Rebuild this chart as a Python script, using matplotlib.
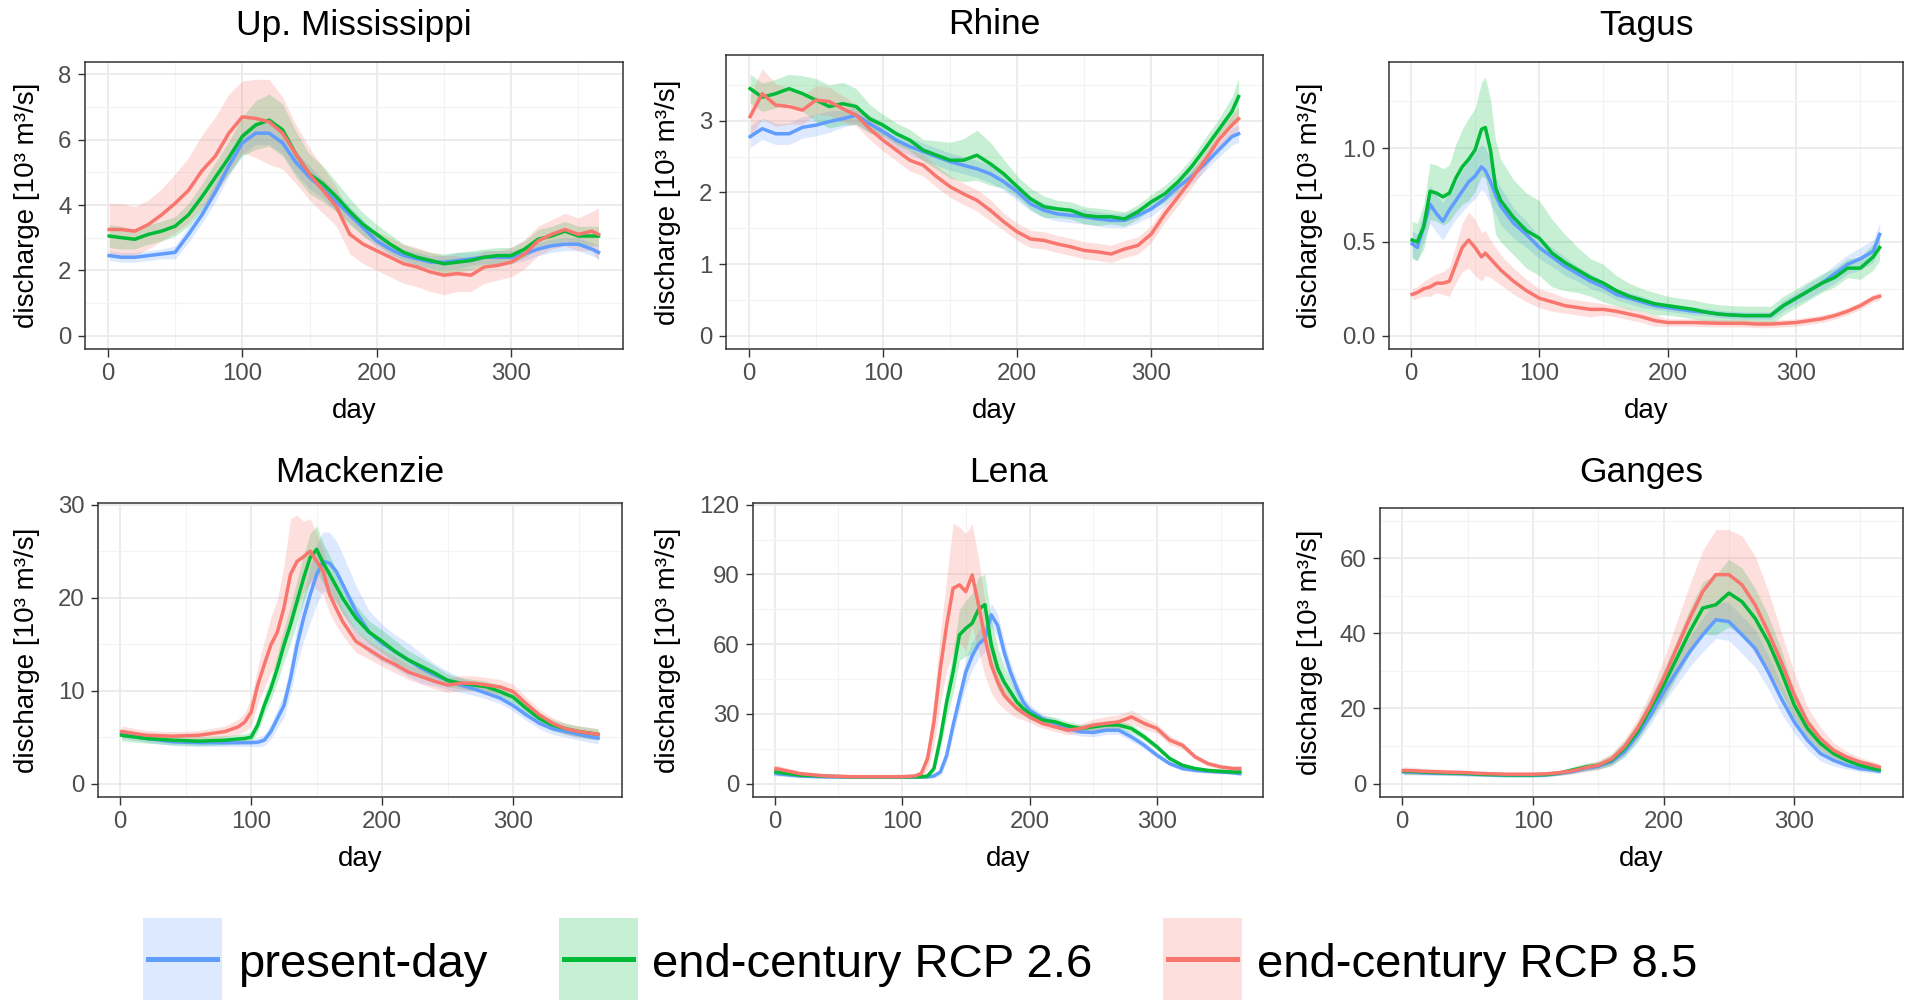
import numpy as np
import matplotlib
matplotlib.use("Agg")
import matplotlib.pyplot as plt
from matplotlib.patches import Rectangle
from matplotlib.lines import Line2D
from matplotlib.ticker import FixedLocator, FixedFormatter

plt.rcParams['font.family'] = ['Liberation Sans', 'DejaVu Sans']

# ---------------- data (10^3 m^3/s) ----------------
DAYS_STD = [1, 10, 20, 30, 40, 50, 60, 70, 80, 90, 100, 110, 120, 130, 140, 150, 160, 170, 180,
            190, 200, 210, 220, 230, 240, 250, 260, 270, 280, 290, 300, 310, 320, 330, 340, 350,
            360, 365]

# Upper Mississippi
MISS_PRESENT = [2.45, 2.4, 2.4, 2.45, 2.5, 2.55, 3.1, 3.7, 4.4, 5.2, 5.9, 6.2, 6.2, 5.9, 5.3, 4.85,
                4.5, 4.1, 3.7, 3.3, 2.9, 2.65, 2.45, 2.35, 2.25, 2.25, 2.3, 2.35, 2.4, 2.4, 2.4, 2.5,
                2.65, 2.75, 2.8, 2.8, 2.65, 2.55]
MISS_PRESENT_SPREAD = [0.15, 0.15, 0.15, 0.15, 0.15, 0.2, 0.25, 0.25, 0.3, 0.3, 0.35, 0.35, 0.35, 0.35,
                       0.35, 0.35, 0.3, 0.3, 0.25, 0.25, 0.2, 0.2, 0.2, 0.2, 0.2, 0.2, 0.25, 0.2, 0.2,
                       0.2, 0.2, 0.2, 0.2, 0.2, 0.2, 0.2, 0.2, 0.2]
MISS_RCP26 = [3.05, 3.0, 2.95, 3.1, 3.2, 3.35, 3.7, 4.25, 4.85, 5.45, 6.1, 6.45, 6.6, 6.3, 5.55, 4.95,
              4.65, 4.25, 3.8, 3.4, 3.1, 2.8, 2.55, 2.4, 2.3, 2.2, 2.25, 2.3, 2.4, 2.45, 2.45, 2.65,
              2.95, 3.05, 3.2, 3.05, 3.05, 3.05]
MISS_RCP26_SPREAD = [0.35, 0.35, 0.3, 0.3, 0.3, 0.3, 0.35, 0.4, 0.45, 0.5, 0.6, 0.75, 0.8, 0.8, 0.7, 0.6,
                     0.55, 0.45, 0.4, 0.35, 0.3, 0.3, 0.25, 0.25, 0.25, 0.3, 0.3, 0.3, 0.25, 0.25, 0.25,
                     0.25, 0.3, 0.3, 0.3, 0.3, 0.3, 0.3]
MISS_RCP85 = [3.25, 3.25, 3.2, 3.4, 3.7, 4.05, 4.45, 5.05, 5.5, 6.2, 6.7, 6.65, 6.55, 6.2, 5.55, 4.95,
              4.45, 3.95, 3.1, 2.8, 2.6, 2.4, 2.2, 2.1, 1.95, 1.85, 1.9, 1.85, 2.1, 2.15, 2.25, 2.5,
              2.9, 3.1, 3.25, 3.1, 3.2, 3.1]
MISS_RCP85_SPREAD = [0.8, 0.8, 0.75, 0.75, 0.8, 0.9, 1.0, 1.1, 1.2, 1.2, 1.1, 1.2, 1.3, 1.1, 0.9, 0.8,
                     0.7, 0.6, 0.6, 0.6, 0.6, 0.6, 0.6, 0.6, 0.6, 0.6, 0.55, 0.5, 0.5, 0.45, 0.45, 0.45,
                     0.45, 0.45, 0.5, 0.5, 0.6, 0.8]

# Rhine
RHINE_PRESENT = [2.78, 2.89, 2.82, 2.82, 2.91, 2.94, 2.99, 3.03, 3.08, 2.96, 2.85, 2.73, 2.64, 2.57,
                 2.5, 2.43, 2.38, 2.33, 2.26, 2.15, 2.01, 1.84, 1.75, 1.70, 1.68, 1.66, 1.63, 1.61,
                 1.61, 1.68, 1.77, 1.91, 2.08, 2.22, 2.40, 2.59, 2.78, 2.82]
RHINE_PRESENT_SPREAD = [0.15, 0.15, 0.15, 0.15, 0.15, 0.15, 0.15, 0.12, 0.12, 0.12, 0.12, 0.12, 0.12,
                        0.12, 0.12, 0.12, 0.12, 0.12, 0.12, 0.12, 0.12, 0.1, 0.1, 0.1, 0.1, 0.1, 0.1,
                        0.1, 0.1, 0.1, 0.1, 0.1, 0.1, 0.1, 0.1, 0.1, 0.12, 0.12]
RHINE_RCP26 = [3.45, 3.33, 3.38, 3.45, 3.38, 3.29, 3.20, 3.24, 3.20, 3.03, 2.94, 2.82, 2.73, 2.59,
               2.52, 2.45, 2.45, 2.52, 2.40, 2.26, 2.08, 1.91, 1.80, 1.77, 1.75, 1.68, 1.66, 1.66,
               1.63, 1.73, 1.87, 1.98, 2.15, 2.36, 2.61, 2.87, 3.13, 3.34]
RHINE_RCP26_SPREAD = [0.2, 0.2, 0.2, 0.2, 0.25, 0.3, 0.3, 0.3, 0.25, 0.2, 0.15, 0.15, 0.15, 0.15, 0.2,
                      0.25, 0.3, 0.35, 0.3, 0.2, 0.15, 0.15, 0.15, 0.12, 0.12, 0.12, 0.12, 0.1, 0.1,
                      0.1, 0.1, 0.12, 0.12, 0.12, 0.15, 0.15, 0.2, 0.25]
RHINE_RCP85 = [3.06, 3.38, 3.22, 3.20, 3.15, 3.29, 3.27, 3.17, 3.08, 2.89, 2.73, 2.59, 2.45, 2.38,
               2.22, 2.08, 1.98, 1.89, 1.75, 1.59, 1.45, 1.35, 1.33, 1.28, 1.24, 1.19, 1.17, 1.14,
               1.21, 1.26, 1.42, 1.70, 1.94, 2.19, 2.45, 2.73, 2.94, 3.03]
RHINE_RCP85_SPREAD = [0.3, 0.35, 0.3, 0.25, 0.2, 0.2, 0.2, 0.18, 0.15, 0.15, 0.15, 0.15, 0.15, 0.15,
                      0.15, 0.15, 0.15, 0.15, 0.15, 0.12, 0.12, 0.12, 0.12, 0.12, 0.12, 0.12, 0.12,
                      0.12, 0.12, 0.12, 0.12, 0.12, 0.12, 0.12, 0.12, 0.12, 0.15, 0.15]

# Tagus
TAGUS_DAYS = [1, 5, 10, 15, 20, 25, 30, 35, 40, 45, 50, 55, 58, 62, 66, 70, 80, 90, 100, 110, 120,
              130, 140, 150, 160, 170, 180, 190, 200, 210, 220, 230, 240, 250, 260, 270, 280, 290,
              300, 310, 320, 330, 340, 350, 360, 365]
TAGUS_PRESENT = [0.49, 0.47, 0.58, 0.70, 0.65, 0.61, 0.67, 0.72, 0.77, 0.82, 0.85, 0.90, 0.88, 0.82,
                 0.75, 0.69, 0.60, 0.54, 0.47, 0.42, 0.37, 0.33, 0.29, 0.26, 0.22, 0.20, 0.18, 0.16,
                 0.15, 0.14, 0.13, 0.125, 0.115, 0.11, 0.107, 0.107, 0.107, 0.16, 0.20, 0.24, 0.28,
                 0.33, 0.38, 0.41, 0.45, 0.54]
TAGUS_PRESENT_SPREAD = [0.07, 0.07, 0.08, 0.1, 0.1, 0.1, 0.1, 0.1, 0.11, 0.12, 0.12, 0.12, 0.12, 0.12,
                        0.1, 0.1, 0.08, 0.07, 0.06, 0.05, 0.05, 0.04, 0.04, 0.03, 0.03, 0.03, 0.03,
                        0.02, 0.02, 0.02, 0.02, 0.02, 0.02, 0.02, 0.02, 0.02, 0.02, 0.03, 0.03, 0.04,
                        0.04, 0.05, 0.05, 0.06, 0.06, 0.06]
TAGUS_RCP26 = [0.51, 0.50, 0.58, 0.77, 0.76, 0.74, 0.76, 0.84, 0.90, 0.94, 0.99, 1.10, 1.11, 0.99,
               0.79, 0.72, 0.63, 0.56, 0.52, 0.44, 0.39, 0.35, 0.31, 0.28, 0.24, 0.21, 0.19, 0.17,
               0.16, 0.15, 0.14, 0.125, 0.115, 0.11, 0.107, 0.107, 0.107, 0.16, 0.20, 0.24, 0.28,
               0.31, 0.36, 0.36, 0.42, 0.47]
TAGUS_RCP26_SPREAD = [0.1, 0.1, 0.12, 0.15, 0.15, 0.15, 0.15, 0.18, 0.2, 0.22, 0.22, 0.25, 0.27, 0.27,
                      0.25, 0.22, 0.2, 0.2, 0.2, 0.18, 0.15, 0.12, 0.1, 0.1, 0.08, 0.07, 0.06, 0.06,
                      0.05, 0.05, 0.05, 0.05, 0.05, 0.05, 0.05, 0.05, 0.05, 0.05, 0.05, 0.05, 0.05,
                      0.05, 0.05, 0.06, 0.07, 0.07]
TAGUS_RCP85 = [0.22, 0.23, 0.25, 0.26, 0.28, 0.28, 0.29, 0.38, 0.47, 0.51, 0.47, 0.42, 0.44, 0.41,
               0.38, 0.35, 0.29, 0.24, 0.20, 0.18, 0.16, 0.15, 0.14, 0.14, 0.13, 0.115, 0.10, 0.08,
               0.07, 0.07, 0.07, 0.068, 0.066, 0.066, 0.066, 0.062, 0.062, 0.066, 0.07, 0.08, 0.09,
               0.107, 0.13, 0.16, 0.20, 0.21]
TAGUS_RCP85_SPREAD = [0.03, 0.03, 0.04, 0.05, 0.05, 0.06, 0.08, 0.1, 0.13, 0.15, 0.15, 0.13, 0.12, 0.1,
                      0.09, 0.08, 0.07, 0.06, 0.05, 0.05, 0.04, 0.04, 0.04, 0.03, 0.03, 0.03, 0.03,
                      0.03, 0.02, 0.02, 0.02, 0.02, 0.02, 0.02, 0.02, 0.02, 0.02, 0.02, 0.02, 0.02,
                      0.02, 0.02, 0.02, 0.02, 0.02, 0.02]

# Mackenzie
MACK_DAYS = [1, 20, 40, 60, 80, 90, 95, 100, 105, 110, 115, 120, 125, 130, 135, 140, 145, 150, 155,
             160, 165, 170, 180, 190, 200, 210, 220, 230, 240, 250, 260, 270, 280, 290, 300, 310,
             320, 330, 340, 350, 360, 365]
MACK_PRESENT = [5.4, 4.85, 4.5, 4.4, 4.4, 4.4, 4.4, 4.4, 4.45, 4.67, 5.6, 7.0, 8.4, 11.3, 14.9, 17.8,
                20.3, 22.5, 23.9, 23.7, 22.8, 21.4, 18.5, 16.3, 15.1, 14.2, 13.3, 12.4, 11.7, 11.1,
                10.6, 10.2, 9.7, 9.2, 8.4, 7.4, 6.5, 5.9, 5.6, 5.3, 5.0, 4.9]
MACK_PRESENT_SPREAD = [0.5, 0.4, 0.4, 0.4, 0.4, 0.4, 0.4, 0.4, 0.5, 0.6, 0.8, 1.0, 1.3, 1.6, 2.0, 2.5,
                       3.0, 3.2, 3.2, 3.3, 3.3, 3.2, 2.8, 2.3, 2.0, 1.8, 1.8, 1.6, 1.2, 1.0, 0.8, 0.7,
                       0.6, 0.6, 0.6, 0.6, 0.6, 0.6, 0.6, 0.6, 0.6, 0.6]
MACK_RCP26 = [5.2, 4.85, 4.67, 4.56, 4.67, 4.8, 4.85, 5.0, 6.3, 8.4, 10.2, 12.4, 14.9, 17.1, 19.6,
              22.1, 24.3, 25.2, 23.7, 22.5, 21.2, 19.9, 17.8, 16.3, 15.3, 14.2, 13.3, 12.6, 11.9,
              11.1, 10.8, 10.6, 10.4, 9.9, 9.3, 8.1, 7.0, 6.3, 5.9, 5.6, 5.4, 5.3]
MACK_RCP26_SPREAD = [0.6, 0.5, 0.5, 0.5, 0.5, 0.5, 0.5, 0.6, 0.8, 1.0, 1.2, 1.5, 1.8, 2.0, 2.3, 2.5,
                     2.6, 2.5, 2.2, 2.0, 1.8, 1.6, 1.4, 1.2, 1.2, 1.2, 1.0, 0.9, 0.8, 0.7, 0.6, 0.6,
                     0.6, 0.6, 0.6, 0.6, 0.6, 0.6, 0.6, 0.6, 0.6, 0.6]
MACK_RCP85 = [5.6, 5.2, 5.1, 5.2, 5.6, 6.1, 6.6, 7.7, 10.6, 12.8, 14.9, 16.3, 18.9, 22.5, 23.9, 24.4,
              25.0, 23.9, 22.8, 20.3, 18.8, 17.4, 15.3, 14.4, 13.5, 12.8, 12.0, 11.5, 11.0, 10.6,
              10.8, 10.8, 10.6, 10.4, 9.9, 8.6, 7.4, 6.5, 5.9, 5.6, 5.4, 5.3]
MACK_RCP85_SPREAD = [0.6, 0.5, 0.5, 0.5, 0.6, 0.8, 1.0, 1.5, 2.0, 2.5, 3.0, 3.5, 4.5, 6.0, 5.0, 3.8,
                     3.5, 3.0, 2.5, 2.0, 1.8, 1.5, 1.2, 1.0, 0.9, 0.9, 0.8, 0.8, 0.8, 0.8, 0.8, 0.8,
                     0.8, 0.8, 0.8, 0.7, 0.6, 0.6, 0.6, 0.6, 0.6, 0.6]

# Lena
LENA_DAYS = [1, 20, 40, 60, 80, 100, 110, 115, 120, 125, 130, 135, 140, 145, 150, 155, 160, 165,
             170, 175, 180, 185, 190, 195, 200, 210, 220, 230, 240, 250, 260, 270, 280, 290, 300,
             310, 320, 330, 340, 350, 360, 365]
LENA_PRESENT = [4.3, 3.3, 2.9, 2.9, 2.9, 2.9, 2.9, 2.9, 2.9, 3.3, 5.0, 12.2, 25, 36.6, 48, 55, 60,
                62.5, 72.6, 68, 56.8, 48, 41, 35.2, 31.6, 28, 25.9, 23.7, 22.3, 22, 23, 23, 20.1,
                16.5, 12.2, 8.6, 6.5, 5.7, 5.3, 5.0, 4.7, 4.3]
LENA_PRESENT_SPREAD = [1, 0.8, 0.6, 0.6, 0.6, 0.6, 0.6, 0.6, 0.6, 0.8, 1.5, 3, 4, 5, 6, 6, 6, 6, 5, 5,
                       5, 4, 3.5, 3, 2.5, 2, 2, 1.8, 1.8, 1.8, 1.8, 1.8, 1.8, 1.5, 1.2, 1, 0.8, 0.8,
                       0.8, 0.8, 0.8, 0.8]
LENA_RCP26 = [5.0, 3.6, 3.2, 2.9, 2.9, 2.9, 2.9, 2.9, 3.3, 6.5, 19.4, 35.2, 48, 64, 66.8, 69, 75,
              77, 59.6, 49.6, 43.8, 39.5, 35.2, 32.3, 30.2, 27.3, 26.6, 24.9, 23.7, 24.4, 25.2, 25.2,
              23.7, 20.1, 15.8, 10.8, 7.9, 6.5, 5.7, 5.3, 5.0, 5.0]
LENA_RCP26_SPREAD = [1, 0.8, 0.6, 0.6, 0.6, 0.6, 0.6, 0.6, 0.8, 1.5, 4, 7, 9, 11, 12, 13, 14, 13, 11,
                     9, 7, 5, 4, 3, 2.5, 2, 2, 1.8, 1.8, 1.8, 1.8, 1.8, 1.8, 1.5, 1.2, 1, 0.8, 0.8,
                     0.8, 0.8, 0.8, 0.8]
LENA_RCP85 = [6.5, 4.3, 3.3, 3.0, 3.0, 3.0, 3.3, 4.3, 10.8, 26.6, 49.6, 68.3, 84, 85.5, 82.6, 89.8,
              76.9, 62.5, 51, 43.8, 38.1, 35, 32.3, 30.5, 28.7, 25.9, 24.4, 23, 23.7, 25.2, 25.9,
              26.6, 28.7, 25.9, 23.7, 18.7, 16.5, 11.5, 8.6, 7.2, 6.5, 6.5]
LENA_RCP85_SPREAD = [1.5, 1, 0.8, 0.6, 0.6, 0.6, 0.8, 1.5, 5, 10, 15, 20, 28, 25, 25, 22, 20, 16, 12,
                     9, 6, 5, 4, 3, 2.5, 2, 2, 2, 2, 2.5, 3, 3, 3, 2.5, 2, 2, 1.5, 1.2, 1, 1, 1, 1]

# Ganges
GANGES_PRESENT = [3.1, 3.0, 2.8, 2.75, 2.7, 2.55, 2.4, 2.3, 2.2, 2.2, 2.2, 2.3, 2.7, 3.2, 4.0, 4.6,
                  5.8, 8.4, 12.9, 18.2, 24.4, 29.8, 35.1, 39.6, 43.6, 43.1, 39.6, 36.0, 29.8, 22.7,
                  16.4, 11.6, 8.0, 6.2, 4.9, 4.0, 3.6, 3.3]
GANGES_PRESENT_SPREAD = [0.8, 0.7, 0.6, 0.6, 0.6, 0.6, 0.5, 0.5, 0.5, 0.5, 0.5, 0.5, 0.5, 0.6, 0.7,
                         0.8, 1, 1.5, 2, 2.5, 3, 3.5, 4, 4.5, 5, 5, 5, 5, 4.5, 4, 3, 2.5, 2, 1.5, 1,
                         0.8, 0.8, 0.8]
GANGES_RCP26 = [3.3, 3.2, 3.0, 2.9, 2.8, 2.7, 2.5, 2.4, 2.3, 2.3, 2.3, 2.4, 2.8, 3.6, 4.4, 4.9, 6.2,
                9.3, 13.8, 20.0, 26.2, 33.3, 40.4, 46.7, 47.6, 50.7, 48.4, 44.0, 37.8, 29.8, 20.9,
                14.7, 10.7, 8.0, 6.2, 4.9, 4.0, 3.7]
GANGES_RCP26_SPREAD = [0.8, 0.7, 0.6, 0.6, 0.6, 0.6, 0.5, 0.5, 0.5, 0.5, 0.5, 0.5, 0.6, 0.8, 1, 1,
                       1.5, 2, 2.5, 3, 4, 5, 6, 7, 8, 9, 9, 8, 7, 6, 4, 3, 2, 1.5, 1.2, 1, 0.8, 0.8]
GANGES_RCP85 = [3.5, 3.4, 3.2, 3.1, 3.0, 2.9, 2.7, 2.6, 2.5, 2.5, 2.5, 2.6, 2.9, 3.4, 4.2, 4.9, 6.5,
                9.8, 14.7, 20.9, 28.0, 36.0, 44.0, 51.1, 55.6, 55.6, 52.9, 47.6, 40.4, 32.4, 23.6,
                16.4, 12.0, 8.9, 7.1, 5.8, 4.9, 4.4]
GANGES_RCP85_SPREAD = [1, 0.9, 0.8, 0.8, 0.7, 0.7, 0.6, 0.6, 0.6, 0.6, 0.6, 0.6, 0.7, 0.8, 1, 1.2,
                       1.5, 2, 2.5, 3.5, 5, 7, 9, 11, 12, 12, 13, 13, 11, 8, 6, 4, 3, 2, 1.5, 1.2,
                       1, 1]

SCENARIOS = ['present-day', 'end-century RCP 2.6', 'end-century RCP 8.5']
COLORS = ['#619CFF', '#00BA38', '#F8766D']
PANEL_TITLES = ['Up. Mississippi', 'Rhine', 'Tagus', 'Mackenzie', 'Lena', 'Ganges']
Y_TICKS = [[0, 2, 4, 6, 8], [0, 1, 2, 3], [0.0, 0.5, 1.0], [0, 10, 20, 30],
           [0, 30, 60, 90, 120], [0, 20, 40, 60]]
Y_TICK_LABELS = [['0', '2', '4', '6', '8'], ['0', '1', '2', '3'], ['0.0', '0.5', '1.0'],
                 ['0', '10', '20', '30'], ['0', '30', '60', '90', '120'], ['0', '20', '40', '60']]
Y_MINOR = [[1, 3, 5, 7], [0.5, 1.5, 2.5, 3.5], [0.25, 0.75, 1.25], [5, 15, 25],
           [15, 45, 75, 105], [10, 30, 50, 70]]
X_TICKS = [0, 100, 200, 300]
X_MINOR = [50, 150, 250, 350]
Y_LABEL = 'discharge [10³ m³/s]'
X_LABEL = 'day'

PANEL_DATA = [
    (DAYS_STD, [(MISS_PRESENT, MISS_PRESENT_SPREAD), (MISS_RCP26, MISS_RCP26_SPREAD),
                (MISS_RCP85, MISS_RCP85_SPREAD)]),
    (DAYS_STD, [(RHINE_PRESENT, RHINE_PRESENT_SPREAD), (RHINE_RCP26, RHINE_RCP26_SPREAD),
                (RHINE_RCP85, RHINE_RCP85_SPREAD)]),
    (TAGUS_DAYS, [(TAGUS_PRESENT, TAGUS_PRESENT_SPREAD), (TAGUS_RCP26, TAGUS_RCP26_SPREAD),
                  (TAGUS_RCP85, TAGUS_RCP85_SPREAD)]),
    (MACK_DAYS, [(MACK_PRESENT, MACK_PRESENT_SPREAD), (MACK_RCP26, MACK_RCP26_SPREAD),
                 (MACK_RCP85, MACK_RCP85_SPREAD)]),
    (LENA_DAYS, [(LENA_PRESENT, LENA_PRESENT_SPREAD), (LENA_RCP26, LENA_RCP26_SPREAD),
                 (LENA_RCP85, LENA_RCP85_SPREAD)]),
    (DAYS_STD, [(GANGES_PRESENT, GANGES_PRESENT_SPREAD), (GANGES_RCP26, GANGES_RCP26_SPREAD),
                (GANGES_RCP85, GANGES_RCP85_SPREAD)]),
]

# ---------------- layout (pixels) ----------------
W, H = 1905, 1000
BOXES = [(85, 623, 62, 349), (726, 1263, 55, 349), (1389, 1903, 62, 349),
         (98, 622, 503, 797), (753, 1263, 503, 797), (1380, 1903, 508, 797)]
YLIMS = [(-0.41, 8.38), (-0.187, 3.92), (-0.071, 1.459), (-1.44, 30.18), (-5.75, 120.72),
         (-3.56, 73.33)]
XLIM = (-17.0, 383.2)
YLABEL_X = [27, 668, 1310, 27, 668, 1310]
TITLE_BASE = [34.5, 34.5, 34.5, 482.5, 482.5, 482.5]
XLABEL_Y = [411, 411, 411, 859, 859, 859]

fig = plt.figure(figsize=(W / 100, H / 100), dpi=100)

for i in range(6):
    L, R, T, B = BOXES[i]
    ax = fig.add_axes([L / W, 1 - B / H, (R - L) / W, (B - T) / H])
    days, series = PANEL_DATA[i]
    d = np.array(days, dtype=float)
    for (m, s), c in zip(series, COLORS):
        m = np.array(m, dtype=float)
        s = np.array(s, dtype=float)
        ax.fill_between(d, m - s, m + s, color=c, alpha=0.22, lw=0, zorder=2)
    for (m, s), c in zip(series, COLORS):
        ax.plot(d, m, color=c, lw=2.5, zorder=3, solid_joinstyle='round')
    ax.set_xlim(*XLIM)
    ax.set_ylim(*YLIMS[i])
    ax.xaxis.set_major_locator(FixedLocator(X_TICKS))
    ax.xaxis.set_minor_locator(FixedLocator(X_MINOR))
    ax.yaxis.set_major_locator(FixedLocator(Y_TICKS[i]))
    ax.yaxis.set_major_formatter(FixedFormatter(Y_TICK_LABELS[i]))
    ax.yaxis.set_minor_locator(FixedLocator(Y_MINOR[i]))
    ax.set_axisbelow(True)
    ax.grid(which='major', color='#EBEBEB', lw=1.3, zorder=0)
    ax.grid(which='minor', color='#F3F3F3', lw=0.8, zorder=0)
    for sp in ax.spines.values():
        sp.set_color('#333333')
        sp.set_linewidth(1.1)
    ax.tick_params(which='major', length=5.4, width=1.0, color='#333333',
                   labelsize=17.3, labelcolor='#4D4D4D')
    ax.tick_params(axis='x', pad=5.0)
    ax.tick_params(axis='y', pad=4.3)
    ax.tick_params(which='minor', length=0)
    ax.set_xlabel(X_LABEL, fontsize=20, color='black')
    ax.xaxis.label.set_va('center')
    ax.xaxis.set_label_coords(0.5, (B - XLABEL_Y[i]) / (B - T))
    ax.set_ylabel(Y_LABEL, fontsize=20, color='black')
    ax.yaxis.label.set_va('center')
    ax.yaxis.set_label_coords((YLABEL_X[i] - L) / (R - L), 0.5)
    fig.text((L + R) / 2 / W, 1 - TITLE_BASE[i] / H, PANEL_TITLES[i], fontsize=25.5,
             ha='center', va='baseline', color='black')

# ---------------- legend ----------------
KEY_X = [143, 559, 1163]
TEXT_X = [238, 652, 1257]
KEY_W, KEY_TOP, KEY_BOT = 79, 918, 1000
for kx, tx, lab, c in zip(KEY_X, TEXT_X, SCENARIOS, COLORS):
    fig.add_artist(Rectangle((kx / W, 1 - KEY_BOT / H), KEY_W / W, (KEY_BOT - KEY_TOP) / H,
                             transform=fig.transFigure, facecolor=c, alpha=0.22, lw=0))
    fig.add_artist(Line2D([(kx + 5) / W, (kx + KEY_W - 5) / W], [1 - 959 / H, 1 - 959 / H],
                          transform=fig.transFigure, color=c, lw=3.6))
    fig.text(tx / W, 1 - 977 / H, lab, fontsize=34, ha='left', va='baseline', color='black')

fig.savefig('out.png', dpi=100, facecolor='white')
